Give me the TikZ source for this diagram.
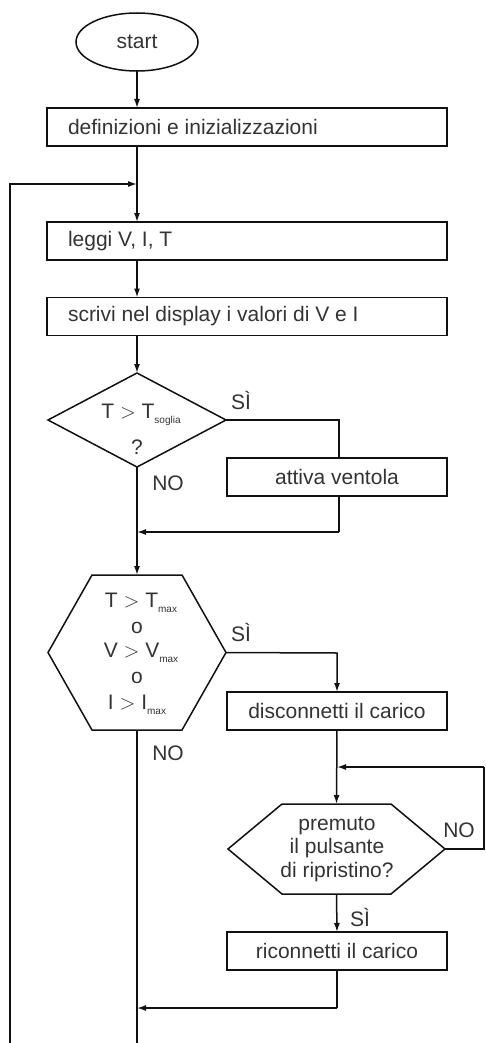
\documentclass[tikz,border=0pt]{standalone}
\usepackage{fontspec}
\setmainfont{Liberation Sans}
\usetikzlibrary{arrows.meta,calc,shapes.geometric}
\definecolor{txt}{HTML}{333333}
\definecolor{ln}{HTML}{111111}
\tikzset{
  x=1pt,y=-1pt,
  every node/.style={font=\fontsize{21}{24}\selectfont, text=txt, outer sep=0pt, inner sep=0pt},
  line/.style={draw=ln, line width=1.5pt},
  arr/.style={line, -{Latex[length=9pt,width=6pt]}},
  procbox/.style={draw=ln, line width=1.5pt, rectangle},
  shapebox/.style={draw=none, rectangle},
  lbl/.style={font=\fontsize{21}{24}\selectfont},
}
\newcommand{\sbs}[1]{\raisebox{-0.5ex}{\fontsize{10}{11}\selectfont #1}}
\begin{document}
\begin{tikzpicture}
\useasboundingbox (0,0) rectangle (485,1043);
% start
\node[draw=ln, line width=1.5pt, ellipse, minimum width=122pt, minimum height=58pt] (start) at (137,42) {start};
% boxes
\node[procbox, minimum width=400pt, minimum height=38pt] (def) at (247,127) {};
\node[anchor=west] (deft) at (68,127) {definizioni e inizializzazioni};
\node[procbox, minimum width=400pt, minimum height=38pt] (leggi) at (247,241) {};
\node[anchor=west] (leggit) at (68,241) {leggi V, I, T};
\node[procbox, minimum width=400pt, minimum height=38pt] (scrivi) at (247,316.5) {};
\node[anchor=west] (scrivit) at (68,316.5) {scrivi nel display i valori di V e I};
% diamond
\node[shapebox, minimum width=178pt, minimum height=94pt] (dia) at (137,420) {};
\draw[line] (dia.north) -- (dia.east) -- (dia.south) -- (dia.west) -- cycle;
\node (diat1) at (141,415) {T $>$ T\sbs{soglia}};
\node (diat2) at (137,447) {?};
% attiva
\node[procbox, minimum width=220pt, minimum height=38pt] (att) at (337,477) {attiva ventola};
\coordinate (attin) at (339,420);
\coordinate (attout) at (339,532);
\coordinate (m1) at (137,532);
% hexagon 1
\node[shapebox, minimum width=178pt, minimum height=155pt] (h1) at (137,652.5) {};
\draw[line] (h1.west) -- ([xshift=44pt]h1.north west) -- ([xshift=-44pt]h1.north east) -- (h1.east) -- ([xshift=-44pt]h1.south east) -- ([xshift=44pt]h1.south west) -- cycle;
\node (h1a) at (141,603) {T $>$ T\sbs{max}};
\node (h1b) at (137,628) {o};
\node (h1c) at (141,653) {V $>$ V\sbs{max}};
\node (h1d) at (137,678) {o};
\node (h1e) at (137,705) {I $>$ I\sbs{max}};
% disconnetti
\node[procbox, minimum width=220pt, minimum height=38pt] (dis) at (337,711) {disconnetti il carico};
\coordinate (disin) at (337,653);
\coordinate (j2) at (337,767);
% hexagon 2
\node[shapebox, minimum width=217pt, minimum height=90pt] (h2) at (336.5,849) {};
\draw[line] (h2.west) -- ([xshift=54pt]h2.north west) -- ([xshift=-54pt]h2.north east) -- (h2.east) -- ([xshift=-54pt]h2.south east) -- ([xshift=54pt]h2.south west) -- cycle;
\node[align=center, font=\fontsize{21}{23.5}\selectfont] (h2t) at (337,849) {premuto\\il pulsante\\di ripristino?};
\coordinate (r1) at (484,849);
\coordinate (r2) at (484,767);
% riconnetti
\node[procbox, minimum width=220pt, minimum height=38pt] (ric) at (337,951) {riconnetti il carico};
\coordinate (ricout) at (337,1008);
\coordinate (m2) at (137,1008);
% main line & loop
\coordinate (bot) at (137,1043);
\coordinate (lb) at (10,1043);
\coordinate (lt) at (10,184);
\coordinate (m0) at (137,184);
% connectors
\draw[arr] (start) -- (def.north -| start);
\draw[line] (def.south -| start) -- (m0);
\draw[arr] (m0) -- (leggi.north -| start);
\draw[arr] (leggi.south -| start) -- (scrivi.north -| start);
\draw[arr] (scrivi.south -| start) -- (dia.north);
\draw[line] (dia.east) -- (attin) -- (att.north -| attin);
\draw[line] (att.south -| attout) -- (attout);
\draw[arr] (attout) -- (m1);
\draw[arr] (dia.south) -- (h1.north);
\draw[arr] (h1.east) -- (disin) -- (dis.north -| disin);
\draw[arr] (dis.south) -- (h2.north);
\draw[line] (h2.east) -- (r1) -- (r2);
\draw[arr] (r2) -- (j2);
\draw[arr] (h2.south) -- (ric.north);
\draw[line] (ric.south) -- (ricout);
\draw[arr] (ricout) -- (m2);
\draw[line] (h1.south) -- (bot);
\draw[arr] (lb) -- (lt) -- (m0);
% labels
\node[lbl] (s1) at (241,400) {SÌ};
\node[lbl] (n1) at (168,483) {NO};
\node[lbl] (s2) at (241,632) {SÌ};
\node[lbl] (n2) at (168,753) {NO};
\node[lbl] (n3) at (459,830) {NO};
\node[lbl] (s3) at (360,917) {SÌ};
\end{tikzpicture}
\end{document}
